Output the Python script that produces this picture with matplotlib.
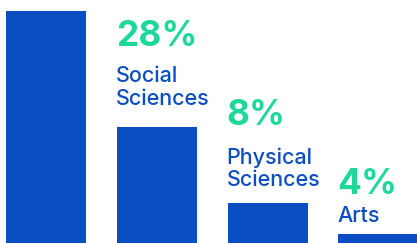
import matplotlib.pyplot as plt

# bar heights (chart units, baseline at the bottom edge of the picture)
categories = ["", "Social\nSciences", "Physical\nSciences", "Arts"]
shares = ["", "28%", "8%", "4%"]
heights = [232, 116, 40, 9]

BLUE = "#0b4ec4"
GREEN = "#1ed89b"

fig = plt.figure(figsize=(4.17, 2.43), dpi=100)
ax = fig.add_axes([0, 0, 1, 1])

width = 0.722
xs = list(range(len(heights)))
ax.bar(xs, heights, width=width, color=BLUE)

ax.set_xlim(-0.415, 3.348)
ax.set_ylim(0, 243)
ax.axis("off")

label_gap = [0, 22, 16.5, 12.5]   # bar top -> last label baseline
share_gap = [0, 36, 39, 28]       # first label baseline -> share baseline
line_h = 22.5

for i in xs:
    if not shares[i]:
        continue
    left = i - width / 2 - 0.01
    y = heights[i] + label_gap[i]
    lines = categories[i].split("\n")
    for line in reversed(lines):
        ax.text(left, y, line, color=BLUE, fontsize=15.5, family="Inter",
                fontweight="medium", ha="left", va="baseline")
        y += line_h
    y -= line_h
    ax.text(left, y + share_gap[i], shares[i], color=GREEN, fontsize=25.5,
            family="Inter", fontweight="bold", ha="left", va="baseline")

fig.savefig("out.png", dpi=100)
